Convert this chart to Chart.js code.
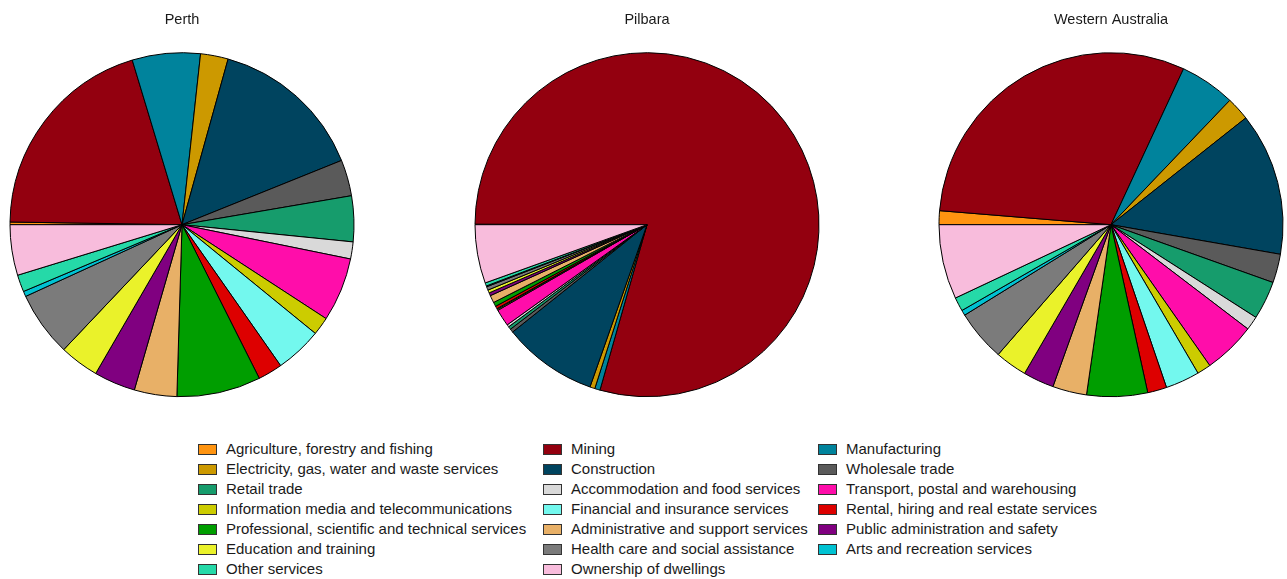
<!DOCTYPE html>
<html>
<head>
<meta charset="utf-8">
<title>Industry shares</title>
<script src="https://cdn.jsdelivr.net/npm/chart.js@4/dist/chart.umd.min.js"></script>
<style>
    html, body { margin: 0; padding: 0; background: #fff; overflow: hidden; }
    body { width: 1287px; height: 579px; position: relative; font-family: "Liberation Sans", Arial, sans-serif; }
    .pie { position: absolute; top: 0; }
    .legend-item { position: absolute; height: 20px; line-height: 20px; font-size: 15px; color: #1a1a1a; white-space: nowrap; }
    .legend-box { position: absolute; left: 0; top: 5px; width: 17px; height: 9px; border: 1px solid #333; }
    .legend-text { position: absolute; left: 28px; top: 0; }
</style>
</head>
<body>
<canvas id="perth-chart" class="pie" width="364" height="412" style="left:0px"></canvas>
<canvas id="pilbara-chart" class="pie" width="364" height="412" style="left:465px"></canvas>
<canvas id="wa-chart" class="pie" width="352" height="412" style="left:935px"></canvas>
<div id="legend"></div>

<script>
// Categorias (ordem da legenda e das fatias)
var categories = [
    'Agriculture, forestry and fishing',
    'Mining',
    'Manufacturing',
    'Electricity, gas, water and waste services',
    'Construction',
    'Wholesale trade',
    'Retail trade',
    'Accommodation and food services',
    'Transport, postal and warehousing',
    'Information media and telecommunications',
    'Financial and insurance services',
    'Rental, hiring and real estate services',
    'Professional, scientific and technical services',
    'Administrative and support services',
    'Public administration and safety',
    'Education and training',
    'Health care and social assistance',
    'Arts and recreation services',
    'Other services',
    'Ownership of dwellings'
];

// Participação (%)
var perthValues = [0.25, 20.1, 6.4, 2.6, 14.6, 3.4, 4.3, 1.6, 6.0, 1.7, 4.4, 2.3, 7.9, 4.0, 3.9, 3.7, 6.1, 0.5, 1.6, 4.75];
var pilbaraValues = [0.05, 79.4, 0.5, 0.47, 8.9, 0.33, 0.28, 0.22, 1.6, 0.1, 0.08, 0.25, 0.4, 0.7, 0.28, 0.28, 0.33, 0.08, 0.3, 5.5];
var waValues = [1.3, 30.6, 5.2, 2.2, 13.4, 2.7, 3.6, 1.3, 4.9, 1.3, 3.2, 1.8, 5.7, 3.2, 2.9, 3.0, 4.8, 0.5, 1.3, 7.0];

var regionTitles = ['Perth', 'Pilbara', 'Western Australia'];

var colors = [
    '#FF9410', '#93000F', '#00839C', '#CC9900', '#00445F',
    '#5A5A5A', '#169C6C', '#D9D9D9', '#FF0DAA', '#CCCC00',
    '#73F8EE', '#DD0000', '#009E00', '#E8B067', '#800080',
    '#EAF22A', '#7B7B7B', '#00C2D2', '#25D9A8', '#F8BCDC'
];

var fontFamily = '"Liberation Sans", Arial, sans-serif';

function makePie(canvasId, title, values) {
    var ctx = document.getElementById(canvasId).getContext('2d');
    return new Chart(ctx, {
        type: 'pie',
        data: {
            labels: categories,
            datasets: [{
                data: values,
                backgroundColor: colors,
                borderColor: '#000',
                borderWidth: 1
            }]
        },
        options: {
            responsive: false,
            animation: false,
            rotation: -90,
            radius: 172,
            layout: { padding: 0 },
            plugins: {
                legend: { display: false },
                tooltip: { enabled: true },
                title: {
                    display: true,
                    text: title,
                    color: '#1a1a1a',
                    font: { family: fontFamily, size: 14.5, weight: 'normal' },
                    padding: { top: 11, bottom: 9 }
                }
            }
        }
    });
}

makePie('perth-chart', regionTitles[0], perthValues);
makePie('pilbara-chart', regionTitles[1], pilbaraValues);
makePie('wa-chart', regionTitles[2], waValues);

// Legenda em 3 colunas (ordem por linha)
var legendCols = [198, 543, 818];
var legendTop = 439;
var legendRowStep = 20;
var legend = document.getElementById('legend');
categories.forEach(function(name, i) {
    var col = i % 3;
    var row = Math.floor(i / 3);
    var item = document.createElement('div');
    item.className = 'legend-item';
    item.style.left = legendCols[col] + 'px';
    item.style.top = (legendTop + row * legendRowStep) + 'px';
    var box = document.createElement('span');
    box.className = 'legend-box';
    box.style.background = colors[i];
    var text = document.createElement('span');
    text.className = 'legend-text';
    text.textContent = name;
    item.appendChild(box);
    item.appendChild(text);
    legend.appendChild(item);
});
</script>
</body>
</html>
